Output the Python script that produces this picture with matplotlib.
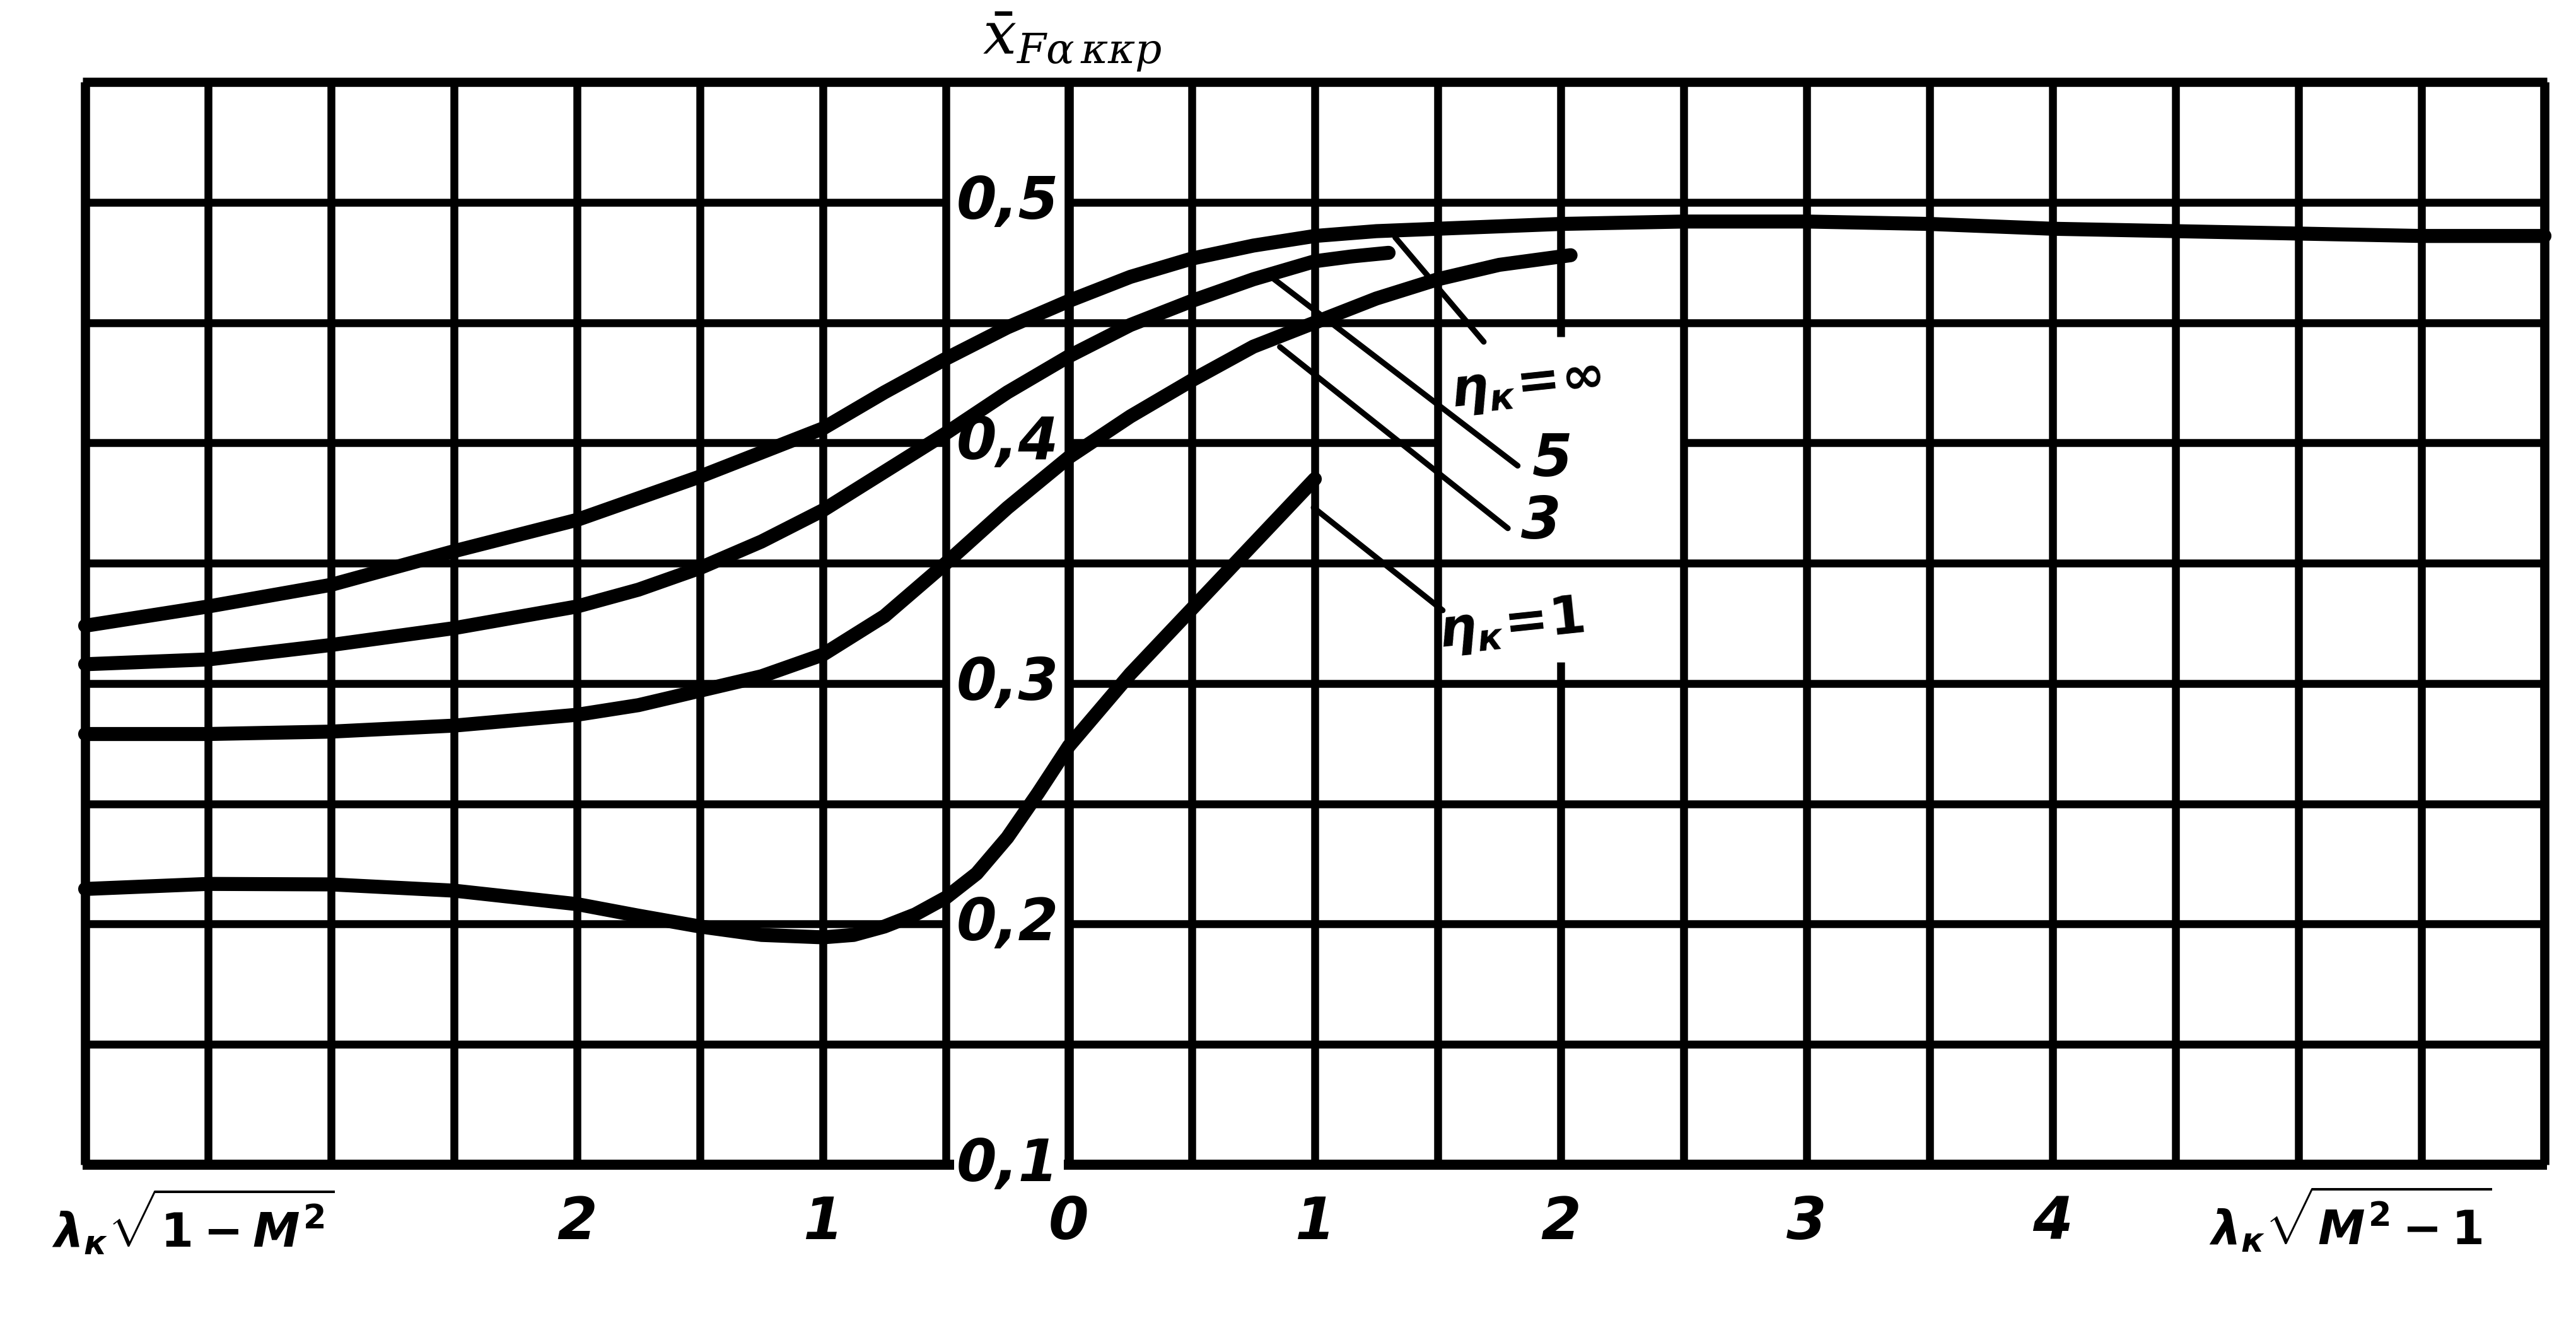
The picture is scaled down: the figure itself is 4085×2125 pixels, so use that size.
"""Critical aerodynamic-centre position of the wing vs. reduced aspect ratio."""

import matplotlib

matplotlib.use("Agg")

import matplotlib.pyplot as plt
import numpy as np
from matplotlib import font_manager

# abscissa: negative side is lambda_k*sqrt(1-M^2) (subsonic), positive side
# is lambda_k*sqrt(M^2-1) (supersonic)
U_INF = [-4, -3.5, -3, -2.5, -2, -1.75, -1.5, -1.25, -1, -0.75, -0.5, -0.25,
         0, 0.25, 0.5, 0.75, 1, 1.25, 1.5, 2, 2.5, 3, 3.5, 4, 4.5, 5, 5.5, 6]
X_INF = [0.324, 0.332, 0.341, 0.355, 0.368, 0.377, 0.386, 0.396, 0.406, 0.421,
         0.435, 0.448, 0.459, 0.469, 0.4766, 0.482, 0.486, 0.488, 0.489, 0.491,
         0.492, 0.492, 0.491, 0.489, 0.488, 0.487, 0.486, 0.486]

U_ETA5 = [-4, -3.5, -3, -2.5, -2, -1.75, -1.5, -1.25, -1, -0.75, -0.5, -0.25,
          0, 0.25, 0.5, 0.75, 1, 1.15, 1.3]
X_ETA5 = [0.308, 0.310, 0.316, 0.323, 0.332, 0.339, 0.348, 0.359, 0.372, 0.388,
          0.404, 0.421, 0.436, 0.449, 0.459, 0.468, 0.4755, 0.4775, 0.479]

U_ETA3 = [-4, -3.5, -3, -2.5, -2, -1.75, -1.5, -1.25, -1, -0.75, -0.5, -0.25,
          0, 0.25, 0.5, 0.75, 1, 1.25, 1.5, 1.75, 2.04]
X_ETA3 = [0.279, 0.279, 0.280, 0.2825, 0.287, 0.291, 0.297, 0.303, 0.312, 0.328,
          0.350, 0.373, 0.394, 0.411, 0.426, 0.440, 0.450, 0.460, 0.468, 0.474,
          0.478]

U_ETA1 = [-4, -3.5, -3, -2.5, -2, -1.75, -1.5, -1.25, -1, -0.875, -0.75, -0.625,
          -0.5, -0.375, -0.25, -0.125, 0, 0.25, 0.5, 0.75, 1]
X_ETA1 = [0.2146, 0.2167, 0.2165, 0.2139, 0.2083, 0.2035, 0.199, 0.1955, 0.1945,
          0.1955, 0.199, 0.204, 0.211, 0.221, 0.236, 0.2545, 0.274, 0.304, 0.331,
          0.358, 0.385]

Y_TICKS = [0.5, 0.4, 0.3, 0.2, 0.1]
Y_TICK_LABELS = ["0,5", "0,4", "0,3", "0,2", "0,1"]
X_TICKS = [-2, -1, 0, 1, 2, 3, 4]
X_TICK_LABELS = ["2", "1", "0", "1", "2", "3", "4"]

CURVE_LABELS = [r"$\eta_к\!=\!\infty$", "5", "3", r"$\eta_к\!=\!1$"]

_names = {f.name for f in font_manager.fontManager.ttflist}
NARROW = "Liberation Sans Narrow" in _names
HAND_FONT = "Liberation Sans Narrow" if NARROW else "DejaVu Sans"
DIGIT_SIZE = 84 if NARROW else 66

plt.rcParams["mathtext.fontset"] = "custom"
plt.rcParams["mathtext.it"] = "DejaVu Sans:italic:bold"
plt.rcParams["mathtext.rm"] = "DejaVu Sans:bold"
plt.rcParams["mathtext.bf"] = "DejaVu Sans:bold"

GRID_LW = 9
BORDER_LW = 10.5
CURVE_LW = 16
LEADER_LW = 6.5


def _hline(ax, v, spans, lw):
    for a, b in spans:
        ax.plot([a, b], [v, v], color="black", lw=lw,
                solid_capstyle="butt", clip_on=False, zorder=2)


def _vline(ax, u, spans, lw):
    for a, b in spans:
        ax.plot([u, u], [a, b], color="black", lw=lw,
                solid_capstyle="butt", clip_on=False, zorder=2)


def draw_grid(ax):
    """Hand-drawn style grid with the breaks seen on the original sheet."""
    for u in np.arange(-4, 6.01, 0.5):
        if abs(u - 2) < 1e-9:
            spans = [(0.1, 0.309), (0.444, 0.55)]
        else:
            spans = [(0.1, 0.55)]
        if abs(u) < 1e-9 or abs(u + 4) < 1e-9 or abs(u - 6) < 1e-9:
            lw = BORDER_LW
        else:
            lw = GRID_LW
        _vline(ax, u, spans, lw)

    for v in np.arange(0.1, 0.551, 0.05):
        v = round(v, 2)
        lw = GRID_LW
        if v == 0.1:
            spans = [(-4.01, -0.467), (-0.02, 6.01)]
            lw = BORDER_LW + 1
        elif v == 0.55:
            spans = [(-4.01, 6.01)]
            lw = BORDER_LW
        elif v == 0.4:
            spans = [(-4, -0.5), (0, 1.5), (2.5, 6)]
        elif v in (0.2, 0.3, 0.5):
            spans = [(-4, -0.5), (0, 6)]
        else:
            spans = [(-4, 6)]
        _hline(ax, v, spans, lw)


def main():
    fig = plt.figure(figsize=(40.85, 21.25), dpi=100)
    ax = fig.add_axes([0.03305, 0.13082, 0.95471, 0.80800])
    ax.set_xlim(-4, 6)
    ax.set_ylim(0.1, 0.55)
    ax.set_axis_off()

    draw_grid(ax)

    for u, x in [(U_INF, X_INF), (U_ETA5, X_ETA5), (U_ETA3, X_ETA3),
                 (U_ETA1, X_ETA1)]:
        ax.plot(u, x, color="black", lw=CURVE_LW, solid_capstyle="round",
                solid_joinstyle="round", clip_on=False, zorder=3)

    # leader lines from the curves to their labels
    leaders = [((1.327, 0.4854), (1.687, 0.442)),
               ((0.835, 0.468), (1.825, 0.3905)),
               ((0.858, 0.4399), (1.785, 0.3645)),
               ((0.995, 0.3731), (1.52, 0.3304))]
    for (u0, v0), (u1, v1) in leaders:
        ax.plot([u0, u1], [v0, v1], color="black", lw=LEADER_LW,
                solid_capstyle="round", zorder=3)

    hand = dict(fontstyle="italic", fontweight="bold", family=HAND_FONT,
                color="black", ha="center", va="center")
    label_pos = [(1.86, 0.424, 60, 6), (1.965, 0.393, DIGIT_SIZE, 0),
                 (1.92, 0.367, DIGIT_SIZE, 0), (1.80, 0.324, 60, 6)]
    for text, (u, v, size, rot) in zip(CURVE_LABELS, label_pos):
        ax.text(u, v, text, fontsize=size, rotation=rot, zorder=4, **hand)

    for v, lab in zip(Y_TICKS, Y_TICK_LABELS):
        ax.text(-0.25, v, lab, fontsize=DIGIT_SIZE, clip_on=False, zorder=4,
                **hand)

    for u, lab in zip(X_TICKS, X_TICK_LABELS):
        ax.text(u, 0.076, lab, fontsize=DIGIT_SIZE, clip_on=False, **hand)

    ax.text(-3.56, 0.076, r"$\lambda_к\sqrt{1-M^2}$", fontsize=54,
            clip_on=False, **hand)
    ax.text(5.21, 0.077, r"$\lambda_к\sqrt{M^2-1}$", fontsize=54,
            clip_on=False, **hand)

    fig.text(0.3814, 0.959, r"$\bar{x}_{F\alpha\,\kappa\kappa p}$",
             fontsize=68, math_fontfamily="dejavuserif", va="baseline",
             ha="left")

    fig.savefig("out.png", dpi=100, facecolor="white")
    plt.close(fig)


if __name__ == "__main__":
    main()
